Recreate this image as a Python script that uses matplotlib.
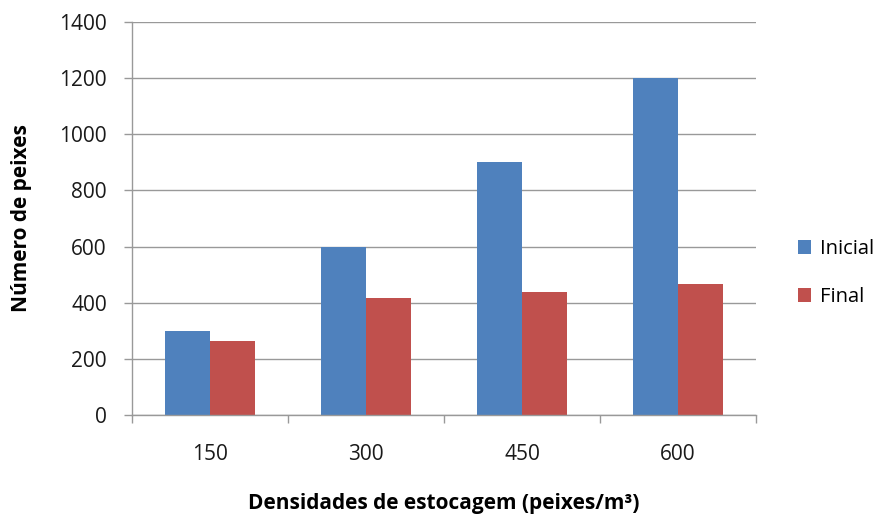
import matplotlib
matplotlib.use("Agg")
import matplotlib.pyplot as plt
import numpy as np

categories = ["150", "300", "450", "600"]
inicial = [300, 600, 900, 1200]
final = [264, 416, 437, 468]
series_names = ["Inicial", "Final"]
yticks = [0, 200, 400, 600, 800, 1000, 1200, 1400]

plt.rcParams['font.family'] = ['Open Sans', 'DejaVu Sans']

fig = plt.figure(figsize=(8.83, 5.19), dpi=100)
ax = fig.add_axes([132/883, 1-415/519, (756-132)/883, (415-22)/519])

x = np.arange(len(categories))
w = 0.2857
blue = "#4F81BD"
red = "#C0504D"
b1 = ax.bar(x - w/2, inicial, w, color=blue, label=series_names[0], zorder=3)
b2 = ax.bar(x + w/2, final, w, color=red, label=series_names[1], zorder=3)

ax.set_xlim(-0.5, len(categories) - 0.5)
ax.set_ylim(0, 1400)
ax.set_yticks(yticks)
ax.set_yticklabels([str(v) for v in yticks], fontsize=15, color="#1a1a1a")
ax.set_xticks(x)
ax.set_xticklabels(categories, fontsize=15, color="#1a1a1a")
ax.set_xticks(np.arange(-0.5, len(categories)), minor=True)
ax.tick_params(axis='x', which='major', length=0, pad=21)
ax.tick_params(axis='x', which='minor', length=6, color="#999999", width=1)
ax.tick_params(axis='y', length=6, color="#999999", width=1, pad=12)

ax.grid(axis='y', color="#999999", linewidth=1, zorder=0)
for s in ['top', 'right']:
    ax.spines[s].set_visible(False)
for s in ['left', 'bottom']:
    ax.spines[s].set_color("#999999")
    ax.spines[s].set_linewidth(1)
    ax.spines[s].set_zorder(4)

ax.set_ylabel("Número de peixes", fontsize=15, fontweight='bold', va='center')
ax.yaxis.set_label_coords((22-132)/624, 0.5)
ax.set_xlabel("Densidades de estocagem (peixes/m³)", fontsize=15, fontweight='bold', va='center')
ax.xaxis.set_label_coords((444-132)/624, (415-503)/393)

leg = fig.legend(handles=[b1, b2], labels=series_names, loc='center left',
                 bbox_to_anchor=(780/883, 1-273/519), frameon=False, fontsize=14.5,
                 handlelength=0.65, handleheight=0.65, handletextpad=0.45, labelspacing=1.4)

fig.savefig("out.png", dpi=100)
